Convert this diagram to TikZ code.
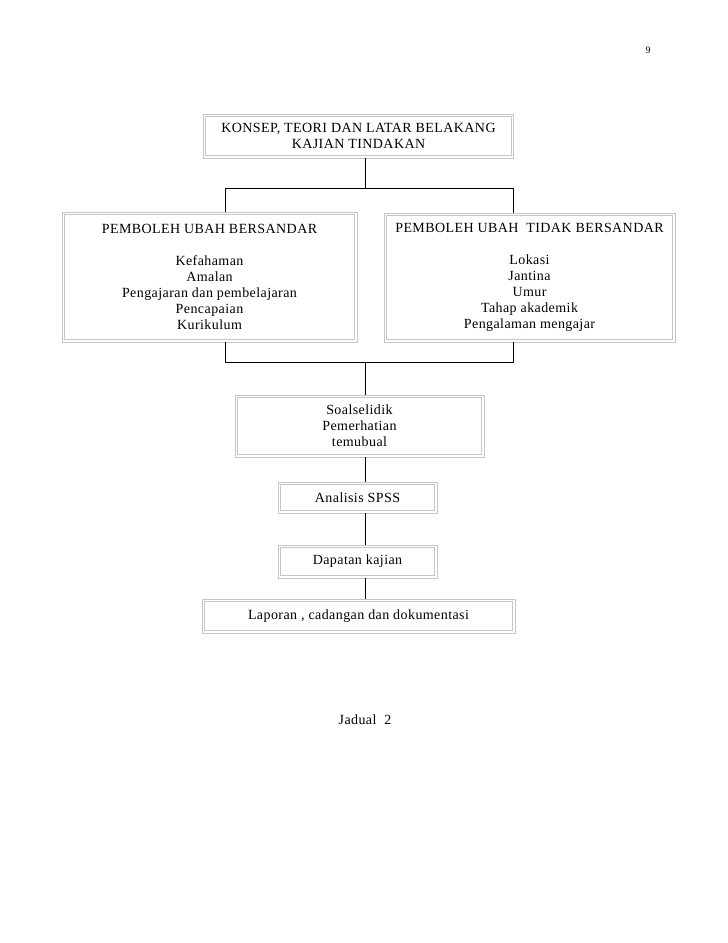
\documentclass[tikz,border=0pt]{standalone}
\usepackage{fontspec}
\setmainfont{Liberation Serif}[LetterSpace=3]
\begin{document}
\begin{tikzpicture}[x=1pt,y=-1pt,
  box/.style={draw=gray!45, line width=0.8pt, inner sep=0pt, align=center, font=\fontsize{14}{16}\selectfont},
  innerline/.style={draw=gray!45, line width=0.8pt},
  conn/.style={draw=black, line width=0.9pt},
  plain/.style={inner sep=0pt, font=\fontsize{14}{16}\selectfont}]
\useasboundingbox[fill=white] (0,0) rectangle (728,943);
\node[plain, font=\fontsize{10}{12}\selectfont] (pg) at (648,50) {9};
\node[box, minimum width=310pt, minimum height=44pt] (konsep) at (358.5,136) {KONSEP, TEORI DAN LATAR BELAKANG\\KAJIAN TINDAKAN};
\node[box, minimum width=295pt, minimum height=130pt] (bers) at (209.5,277) {PEMBOLEH UBAH BERSANDAR\\[16pt]Kefahaman\\Amalan\\Pengajaran dan pembelajaran\\Pencapaian\\Kurikulum};
\node[box, minimum width=291pt, minimum height=129pt] (tidak) at (529.5,277.5) {PEMBOLEH UBAH\ \ TIDAK BERSANDAR\\[16pt]Lokasi\\Jantina\\Umur\\Tahap akademik\\Pengalaman mengajar};
\node[box, minimum width=249pt, minimum height=62pt] (soal) at (359.5,426) {Soalselidik\\Pemerhatian\\temubual};
\node[box, minimum width=159pt, minimum height=31pt] (spss) at (357.5,497.5) {Analisis SPSS};
\node[box, minimum width=159pt, minimum height=33pt] (dapatan) at (357.5,561.5) {Dapatan kajian};
\node[box, minimum width=313pt, minimum height=34pt] (laporan) at (358.5,616) {Laporan , cadangan dan dokumentasi};
\node[plain] (jadual) at (365,720) {Jadual\ \ 2};
\foreach \n in {konsep,bers,tidak,soal,spss,dapatan,laporan}
  \draw[innerline] ([shift={(2.6,2.6)}]\n.north west) rectangle ([shift={(-2.6,-2.6)}]\n.south east);
\coordinate (jl) at (225,188);
\coordinate (jm) at (365,188);
\coordinate (jr) at (513,188);
\coordinate (kl) at (225,362);
\coordinate (km) at (365,362);
\coordinate (kr) at (513,362);
\draw[conn] (konsep.south -| jm) -- (jm);
\draw[conn] (bers.north -| jl) -- (jl) -- (jr) -- (tidak.north -| jr);
\draw[conn] (bers.south -| kl) -- (kl) -- (kr) -- (tidak.south -| kr);
\draw[conn] (km) -- (soal.north -| km);
\draw[conn] (soal.south -| km) -- (spss.north -| km);
\draw[conn] (spss.south -| km) -- (dapatan.north -| km);
\draw[conn] (dapatan.south -| km) -- (laporan.north -| km);
\end{tikzpicture}
\end{document}
